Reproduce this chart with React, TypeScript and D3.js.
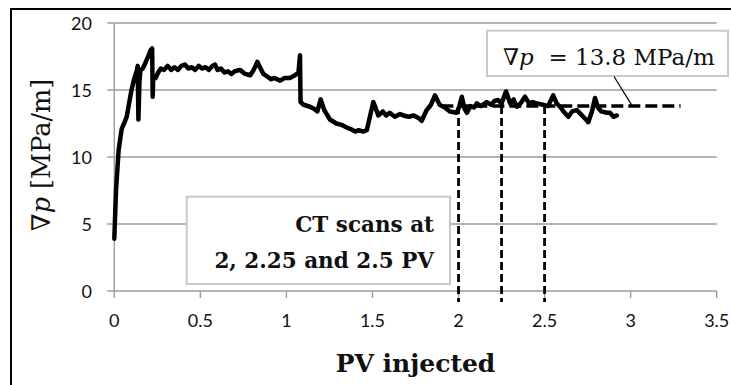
import React from "react";
import * as d3 from "d3";

const pvInjected = [
  0.0, 0.01, 0.025, 0.043, 0.06, 0.072, 0.09, 0.1, 0.115, 0.13, 0.136, 0.14, 0.146, 0.152, 0.165, 0.18, 0.2, 0.212, 0.22, 0.223,
  0.226, 0.24, 0.255, 0.27, 0.29, 0.31, 0.33, 0.35, 0.37, 0.39, 0.41, 0.43, 0.45, 0.47, 0.49, 0.51, 0.53, 0.55, 0.57, 0.585,
  0.6, 0.62, 0.64, 0.66, 0.68, 0.7, 0.73, 0.76, 0.79, 0.81, 0.831, 0.85, 0.866, 0.89, 0.91, 0.93, 0.963, 0.99, 1.02, 1.05,
  1.07, 1.079, 1.082, 1.1, 1.137, 1.16, 1.18, 1.199, 1.22, 1.253, 1.29, 1.32, 1.35, 1.37, 1.4, 1.42, 1.447, 1.467, 1.485, 1.505,
  1.52, 1.534, 1.56, 1.58, 1.6, 1.63, 1.66, 1.68, 1.71, 1.74, 1.77, 1.786, 1.8, 1.815, 1.84, 1.863, 1.89, 1.92, 1.95, 1.99,
  2.005, 2.019, 2.035, 2.048, 2.07, 2.09, 2.106, 2.13, 2.164, 2.19, 2.21, 2.23, 2.25, 2.276, 2.3, 2.32, 2.338, 2.36, 2.386, 2.41,
  2.43, 2.454, 2.49, 2.52, 2.55, 2.57, 2.59, 2.61, 2.638, 2.66, 2.687, 2.71, 2.74, 2.754, 2.775, 2.793, 2.81, 2.83, 2.86, 2.88,
  2.9, 2.92,
];

const pressureGradient = [
  3.9, 7.5, 10.5, 12.1, 12.6, 13.0, 14.3, 15.0, 15.8, 16.4, 16.8, 12.8, 15.6, 16.5, 16.6, 17.0, 17.6, 18.0, 18.1, 14.5,
  15.8, 15.9, 16.3, 16.6, 16.5, 16.8, 16.5, 16.7, 16.5, 16.8, 16.9, 16.6, 16.7, 16.5, 16.8, 16.6, 16.7, 16.5, 16.8, 16.9,
  16.5, 16.6, 16.3, 16.4, 16.2, 16.4, 16.5, 16.2, 16.1, 16.5, 17.1, 16.6, 16.2, 16.0, 15.8, 15.9, 15.7, 15.9, 15.9, 16.1,
  16.3, 17.6, 14.1, 13.9, 13.75, 13.6, 13.4, 14.3, 13.5, 12.8, 12.5, 12.4, 12.2, 12.1, 11.9, 12.0, 11.9, 12.0, 13.0, 14.1,
  13.6, 13.1, 13.4, 13.1, 13.3, 13.0, 13.2, 13.1, 13.0, 13.1, 12.9, 12.7, 13.1, 13.5, 13.9, 14.6, 13.9, 13.7, 13.4, 13.3,
  13.8, 14.5, 13.6, 13.3, 13.8, 13.7, 14.0, 13.8, 14.1, 13.9, 14.2, 14.25, 14.0, 14.9, 14.0, 14.3, 13.75, 14.0, 14.5, 14.0,
  14.1, 14.0, 13.9, 13.8, 14.6, 14.0, 13.75, 13.4, 13.0, 13.4, 13.5, 13.2, 12.8, 12.6, 13.4, 14.4, 13.7, 13.4, 13.3, 13.3,
  13.0, 13.1,
];

const xTicks = [0, 0.5, 1, 1.5, 2, 2.5, 3, 3.5];
const xTickLabels = ["0", "0.5", "1", "1.5", "2", "2.5", "3", "3.5"];
const yTicks = [0, 5, 10, 15, 20];
const yTickLabels = ["0", "5", "10", "15", "20"];
const ctScanPV = [2, 2.25, 2.5];
const meanGradient = 13.8;
const meanLineRange = [1.9, 3.29];
const leaderAtX = 3.01;

const W = 731;
const H = 385;
const M = { left: 114.3, right: 716.7, top: 23, bottom: 291 };
const GRID = "#9c9c9c";
const SERIF = "'DejaVu Serif', serif";
const SANS = "Lato, 'Open Sans', sans-serif";

export default function App() {
  const x = d3.scaleLinear().domain([0, 3.5]).range([M.left, M.right]);
  const y = d3.scaleLinear().domain([0, 20]).range([M.bottom, M.top]);
  const pts: [number, number][] = pvInjected.map((v, i) => [v, pressureGradient[i]]);
  const line = d3
    .line<[number, number]>()
    .x((d) => x(d[0]))
    .y((d) => y(d[1]));
  const yMean = y(meanGradient);

  return (
    <svg
      width={W}
      height={H}
      viewBox={`0 0 ${W} ${H}`}
      style={{ position: "fixed", left: 0, top: 0, background: "#fff" }}
    >
      <rect x={0} y={0} width={W} height={H} fill="#fff" />
      {/* outer frame */}
      <rect x={11} y={9} width={900} height={600} fill="none" stroke="#000" strokeWidth={2} />

      {/* horizontal gridlines with left ticks */}
      {yTicks.map((t) => (
        <line key={"g" + t} x1={M.left - 7} x2={M.right} y1={y(t)} y2={y(t)} stroke={GRID} strokeWidth={1.4} />
      ))}
      {/* y axis line */}
      <line x1={M.left} x2={M.left} y1={M.top} y2={M.bottom} stroke={GRID} strokeWidth={1.4} />
      {/* x ticks */}
      {xTicks.map((t) => (
        <line key={"xt" + t} x1={x(t)} x2={x(t)} y1={M.bottom} y2={M.bottom + 7} stroke={GRID} strokeWidth={1.4} />
      ))}

      {/* tick labels */}
      {yTicks.map((t, i) => (
        <text
          key={"yl" + t}
          x={92}
          y={y(t)}
          textAnchor="end"
          dominantBaseline="central"
          fontFamily={SANS}
          fontSize={18}
          fill="#111"
        >
          {yTickLabels[i]}
        </text>
      ))}
      {xTicks.map((t, i) => (
        <text key={"xl" + t} x={x(t)} y={327} textAnchor="middle" fontFamily={SANS} fontSize={18} fill="#111">
          {xTickLabels[i]}
        </text>
      ))}

      {/* CT scans box */}
      <rect x={186.7} y={196.7} width={263.3} height={87.3} fill="#fff" stroke="#c9c9c9" strokeWidth={2} />
      <text x={434} y={231.7} textAnchor="end" fontFamily={SERIF} fontWeight="bold" fontSize={21.5} fill="#111">
        CT scans at
      </text>
      <text x={434} y={268} textAnchor="end" fontFamily={SERIF} fontWeight="bold" fontSize={21.5} fill="#111">
        2, 2.25 and 2.5 PV
      </text>

      {/* dashed reference lines */}
      <line
        x1={x(meanLineRange[0])}
        x2={x(meanLineRange[1])}
        y1={yMean}
        y2={yMean}
        stroke="#000"
        strokeWidth={3.5}
        strokeDasharray="12,5"
      />
      {ctScanPV.map((v) => (
        <line
          key={"ct" + v}
          x1={x(v)}
          x2={x(v)}
          y1={yMean}
          y2={M.bottom + 11}
          stroke="#000"
          strokeWidth={2.8}
          strokeDasharray="8,4"
        />
      ))}

      {/* data line */}
      <path
        d={line(pts) || ""}
        fill="none"
        stroke="#000"
        strokeWidth={4.5}
        strokeLinejoin="round"
        strokeLinecap="round"
      />

      {/* annotation box */}
      <rect x={487} y={30.7} width={241} height={45.3} fill="#fff" stroke="#c9c9c9" strokeWidth={2} />
      <line x1={614} y1={76.5} x2={x(leaderAtX)} y2={yMean} stroke="#000" strokeWidth={1.2} />
      <text x={503} y={65} fontFamily={SERIF} fontSize={23} fill="#111" xmlSpace="preserve">
        <tspan>∇</tspan>
        <tspan fontStyle="italic">p</tspan>
        <tspan>{"  = 13.8 MPa/m"}</tspan>
      </text>

      {/* axis titles */}
      <text
        x={x(1.75)}
        y={371.7}
        textAnchor="middle"
        fontFamily={SERIF}
        fontWeight="bold"
        fontSize={25}
        fill="#111"
      >
        PV injected
      </text>
      <text
        transform={`translate(50, ${(M.top + M.bottom) / 2 - 2}) rotate(-90)`}
        textAnchor="middle"
        fontFamily={SERIF}
        fontSize={25.5}
        fill="#111"
      >
        <tspan>∇</tspan>
        <tspan fontStyle="italic">p</tspan>
        <tspan>{" [MPa/m]"}</tspan>
      </text>
    </svg>
  );
}
